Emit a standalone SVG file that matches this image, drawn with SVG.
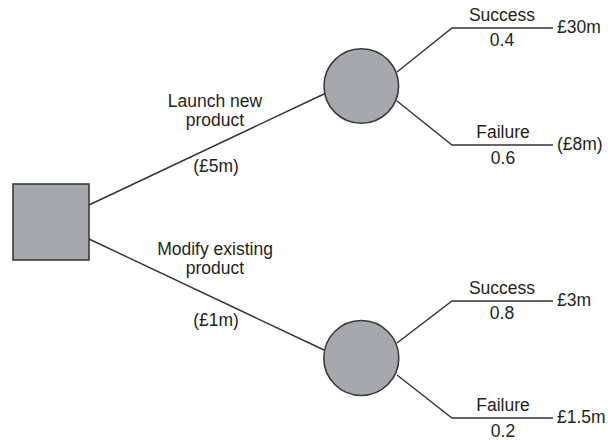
<svg xmlns="http://www.w3.org/2000/svg" width="608" height="440" viewBox="0 0 608 440">
<style>
.node{fill:#a7a8ab;stroke:#3a3a3a;stroke-width:1.6}
.edge{fill:none;stroke:#333;stroke-width:1.4}
text{font-family:"Liberation Sans",Arial,sans-serif;font-size:17.5px;fill:#231f20}
.c{text-anchor:middle}
</style>
<rect width="608" height="440" fill="#fff"/>
<g id="connectors">
<polyline class="edge" points="89,205 324,94"/>
<polyline class="edge" points="89,239 324,350"/>
<polyline class="edge" points="397,72 452,28 553,28"/>
<polyline class="edge" points="397,101 452,145 553,145"/>
<polyline class="edge" points="397,343 452,301 553,301"/>
<polyline class="edge" points="397,375 452,418 553,418"/>
</g>
<g id="decision"><rect class="node" x="13" y="184" width="76" height="76"/></g>
<g id="chance1"><circle class="node" cx="361.3" cy="86" r="37.3"/></g>
<g id="chance2"><circle class="node" cx="361.3" cy="358" r="37.5"/></g>
<g id="labels">
<text class="c" x="215" y="107">Launch new</text>
<text class="c" x="215" y="126">product</text>
<text class="c" x="216" y="172">(£5m)</text>
<text class="c" x="215" y="255">Modify existing</text>
<text class="c" x="215" y="274">product</text>
<text class="c" x="216" y="326">(£1m)</text>
<text class="c" x="502" y="21">Success</text>
<text class="c" x="502" y="46">0.4</text>
<text x="557" y="33">£30m</text>
<text class="c" x="503" y="138">Failure</text>
<text class="c" x="503" y="164">0.6</text>
<text x="557" y="150">(£8m)</text>
<text class="c" x="502" y="294">Success</text>
<text class="c" x="502" y="319">0.8</text>
<text x="557" y="306">£3m</text>
<text class="c" x="503" y="411">Failure</text>
<text class="c" x="503" y="437">0.2</text>
<text x="557" y="423">£1.5m</text>
</g>
</svg>
